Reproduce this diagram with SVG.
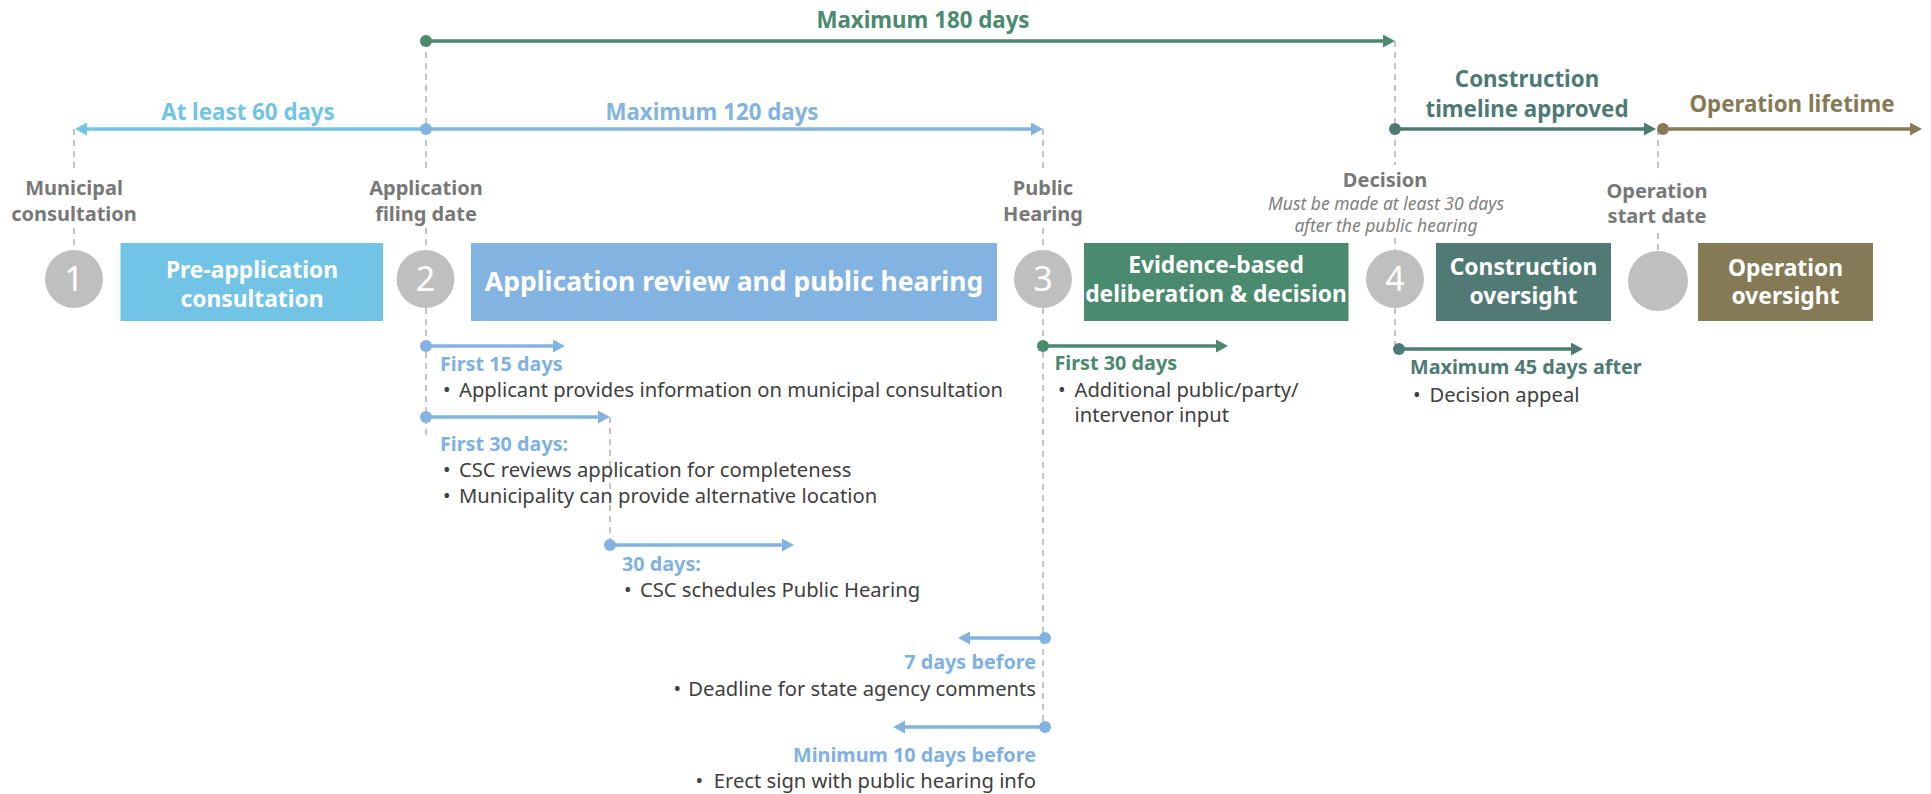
<svg xmlns="http://www.w3.org/2000/svg" width="1931" height="794" viewBox="0 0 1931 794">
<style>
text{font-family:"Noto Sans","Liberation Sans",sans-serif}
.ttl{font-size:22.3px;font-weight:bold;text-anchor:middle}
.lbl{font-size:20px;font-weight:bold;fill:#787878;text-anchor:middle}
.ital{font-size:17.5px;font-style:italic;fill:#7f7f7f;text-anchor:middle}
.box{font-size:22.8px;font-weight:bold;fill:#fff;text-anchor:middle}
.num{font-size:34px;fill:#fff;text-anchor:middle}
.sub{font-size:19.8px;font-weight:bold}
.bul{font-size:20.2px;fill:#404040}
.dash{stroke:#b5b5b5;stroke-width:1.6;stroke-dasharray:6 5;fill:none}
.ln{stroke-width:3.5;fill:none}
.circ{fill:#bfbfbf}
</style>
<defs>
<marker id="aG" markerUnits="userSpaceOnUse" markerWidth="14" markerHeight="14" refX="4" refY="6.5" orient="auto"><path d="M0,0 L12,6.5 L0,13 z" fill="#4a8a6e"/></marker>
<marker id="aC" markerUnits="userSpaceOnUse" markerWidth="14" markerHeight="14" refX="4" refY="6.5" orient="auto"><path d="M0,0 L12,6.5 L0,13 z" fill="#72c4e6"/></marker>
<marker id="aB" markerUnits="userSpaceOnUse" markerWidth="14" markerHeight="14" refX="4" refY="6.5" orient="auto"><path d="M0,0 L12,6.5 L0,13 z" fill="#83b3e0"/></marker>
<marker id="aT" markerUnits="userSpaceOnUse" markerWidth="14" markerHeight="14" refX="4" refY="6.5" orient="auto"><path d="M0,0 L12,6.5 L0,13 z" fill="#4e7a74"/></marker>
<marker id="aO" markerUnits="userSpaceOnUse" markerWidth="14" markerHeight="14" refX="4" refY="6.5" orient="auto"><path d="M0,0 L12,6.5 L0,13 z" fill="#857a56"/></marker>
</defs>

<g id="guides">
<path class="dash" d="M74,129 V172 M74,228 V250"/>
<path class="dash" d="M426,41 V172 M426,228 V250 M426,308 V440"/>
<path class="dash" d="M1043,129 V172 M1043,228 V250 M1043,308 V727"/>
<path class="dash" d="M1395,41 V165 M1395,238 V250 M1395,308 V349"/>
<path class="dash" d="M1658,129 V173 M1658,233 V251"/>
<path class="dash" d="M610,417 V545"/>
</g>

<g id="connectors">
<line class="ln" x1="426" y1="41" x2="1387" y2="41" stroke="#4a8a6e" marker-end="url(#aG)"/>
<circle cx="426" cy="41" r="6" fill="#4a8a6e"/>
<line class="ln" x1="426" y1="129" x2="83" y2="129" stroke="#72c4e6" marker-end="url(#aC)"/>
<line class="ln" x1="426" y1="129" x2="1035" y2="129" stroke="#83b3e0" marker-end="url(#aB)"/>
<circle cx="426" cy="129" r="6" fill="#83b3e0"/>
<line class="ln" x1="1395" y1="129" x2="1648" y2="129" stroke="#4e7a74" marker-end="url(#aT)"/>
<circle cx="1395" cy="129" r="6" fill="#4e7a74"/>
<line class="ln" x1="1663" y1="129" x2="1914" y2="129" stroke="#857a56" marker-end="url(#aO)"/>
<circle cx="1663" cy="129" r="6" fill="#857a56"/>

<line class="ln" x1="426" y1="346" x2="557" y2="346" stroke="#83b3e0" marker-end="url(#aB)"/>
<circle cx="426" cy="346" r="6" fill="#83b3e0"/>
<line class="ln" x1="426" y1="417" x2="602" y2="417" stroke="#83b3e0" marker-end="url(#aB)"/>
<circle cx="426" cy="417" r="6" fill="#83b3e0"/>
<line class="ln" x1="610" y1="545" x2="786" y2="545" stroke="#83b3e0" marker-end="url(#aB)"/>
<circle cx="610" cy="545" r="6" fill="#83b3e0"/>
<line class="ln" x1="1045" y1="638" x2="966" y2="638" stroke="#83b3e0" marker-end="url(#aB)"/>
<circle cx="1045" cy="638" r="6" fill="#83b3e0"/>
<line class="ln" x1="1045" y1="727" x2="901" y2="727" stroke="#83b3e0" marker-end="url(#aB)"/>
<circle cx="1045" cy="727" r="6" fill="#83b3e0"/>
<line class="ln" x1="1043" y1="346" x2="1220" y2="346" stroke="#4a8a6e" marker-end="url(#aG)"/>
<circle cx="1043" cy="346" r="6" fill="#4a8a6e"/>
<line class="ln" x1="1399" y1="349" x2="1575" y2="349" stroke="#4e7a74" marker-end="url(#aT)"/>
<circle cx="1399" cy="349" r="6" fill="#4e7a74"/>
</g>

<g id="period-labels">
<text class="ttl" x="923" y="28" fill="#4a8a6e">Maximum 180 days</text>
<text class="ttl" x="248" y="120" fill="#72c4e6">At least 60 days</text>
<text class="ttl" x="712" y="120" fill="#83b3e0">Maximum 120 days</text>
<text class="ttl" x="1527" y="87" fill="#4e7a74">Construction</text>
<text class="ttl" x="1527" y="117" fill="#4e7a74">timeline approved</text>
<text class="ttl" x="1792" y="112" fill="#857a56">Operation lifetime</text>
</g>

<g id="milestone-1">
<text class="lbl" x="74" y="195">Municipal</text>
<text class="lbl" x="74" y="221">consultation</text>
<circle class="circ" cx="74" cy="279" r="29"/>
<text class="num" x="74" y="291">1</text>
</g>
<g id="milestone-2">
<text class="lbl" x="426" y="195">Application</text>
<text class="lbl" x="426" y="221">filing date</text>
<circle class="circ" cx="425.5" cy="279" r="29"/>
<text class="num" x="425.5" y="291">2</text>
</g>
<g id="milestone-3">
<text class="lbl" x="1043" y="195">Public</text>
<text class="lbl" x="1043" y="221">Hearing</text>
<circle class="circ" cx="1043" cy="279" r="29"/>
<text class="num" x="1043" y="291">3</text>
</g>
<g id="milestone-4">
<text class="lbl" x="1385" y="187">Decision</text>
<text class="ital" x="1386" y="210">Must be made at least 30 days</text>
<text class="ital" x="1386" y="232">after the public hearing</text>
<circle class="circ" cx="1395" cy="279" r="29"/>
<text class="num" x="1395" y="291">4</text>
</g>
<g id="milestone-5">
<text class="lbl" x="1657" y="198">Operation</text>
<text class="lbl" x="1657" y="223">start date</text>
<circle class="circ" cx="1658" cy="281" r="30"/>
</g>

<g id="pre-application">
<rect x="120.5" y="243" width="262.5" height="78" fill="#72c4e6"/>
<text class="box" x="252" y="278">Pre-application</text>
<text class="box" x="252" y="307">consultation</text>
</g>
<g id="application-review">
<rect x="471" y="243" width="526" height="78" fill="#83b3e0"/>
<text class="box" x="734" y="291" style="font-size:26.5px">Application review and public hearing</text>
</g>
<g id="deliberation">
<rect x="1084" y="243" width="264.5" height="78" fill="#4a8a6e"/>
<text class="box" x="1216" y="273">Evidence-based</text>
<text class="box" x="1216" y="302">deliberation &amp; decision</text>
</g>
<g id="construction">
<rect x="1436" y="243" width="175" height="78" fill="#527a75"/>
<text class="box" x="1523.5" y="275">Construction</text>
<text class="box" x="1523.5" y="304">oversight</text>
</g>
<g id="operation">
<rect x="1698" y="243" width="175" height="78" fill="#857a56"/>
<text class="box" x="1785.5" y="276">Operation</text>
<text class="box" x="1785.5" y="304">oversight</text>
</g>

<g id="first-15">
<text class="sub" x="440" y="371" fill="#7fb1e2">First 15 days</text>
<text class="bul" y="397"><tspan x="443">•</tspan><tspan x="459">Applicant provides information on municipal consultation</tspan></text>
</g>
<g id="first-30">
<text class="sub" x="440" y="451" fill="#7fb1e2">First 30 days:</text>
<text class="bul" y="477"><tspan x="443">•</tspan><tspan x="459">CSC reviews application for completeness</tspan></text>
<text class="bul" y="503"><tspan x="443">•</tspan><tspan x="459">Municipality can provide alternative location</tspan></text>
</g>
<g id="days-30">
<text class="sub" x="622" y="571" fill="#7fb1e2">30 days:</text>
<text class="bul" y="597"><tspan x="624">•</tspan><tspan x="640">CSC schedules Public Hearing</tspan></text>
</g>
<g id="days-7">
<text class="sub" x="1036" y="669" fill="#7fb1e2" text-anchor="end">7 days before</text>
<text class="bul" y="696" text-anchor="end"><tspan x="681">•</tspan><tspan x="1036">Deadline for state agency comments</tspan></text>
</g>
<g id="days-10">
<text class="sub" x="1036" y="762" fill="#7fb1e2" text-anchor="end">Minimum 10 days before</text>
<text class="bul" y="788" text-anchor="end"><tspan x="703">•</tspan><tspan x="1036">Erect sign with public hearing info</tspan></text>
</g>
<g id="after-hearing">
<text class="sub" x="1054.5" y="370" fill="#4a8a6e">First 30 days</text>
<text class="bul" y="397"><tspan x="1058">•</tspan><tspan x="1074.5">Additional public/party/</tspan></text>
<text class="bul" x="1074.5" y="422">intervenor input</text>
</g>
<g id="appeal">
<text class="sub" x="1410" y="374" fill="#4e7a74">Maximum 45 days after</text>
<text class="bul" y="402"><tspan x="1413">•</tspan><tspan x="1429.5">Decision appeal</tspan></text>
</g>
</svg>
